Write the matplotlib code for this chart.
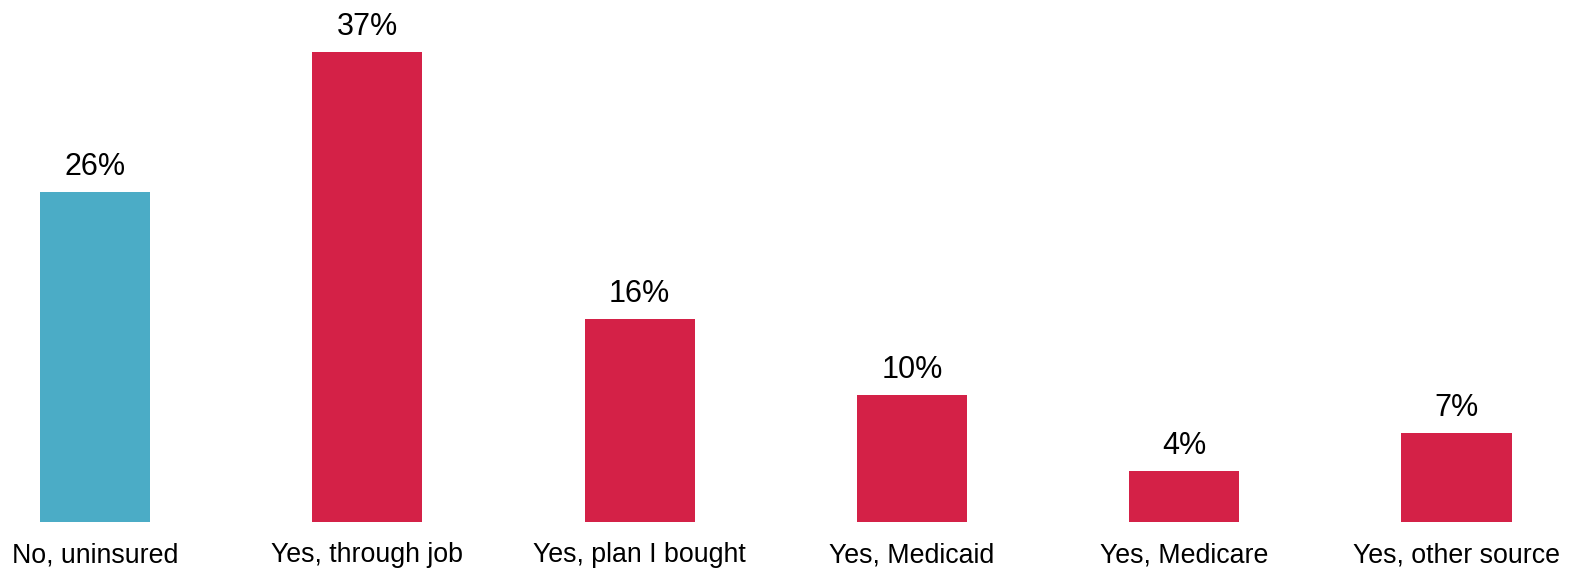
import matplotlib.pyplot as plt

categories = ["No, uninsured", "Yes, through job", "Yes, plan I bought",
              "Yes, Medicaid", "Yes, Medicare", "Yes, other source"]
values = [26, 37, 16, 10, 4, 7]
colors = ["#4BACC6", "#D42147", "#D42147", "#D42147", "#D42147", "#D42147"]

plt.rcParams['font.family'] = ['Liberation Sans', 'DejaVu Sans']

fig = plt.figure(figsize=(15.7, 5.68), dpi=100)
ax = fig.add_axes([0, (568 - 521.5) / 568, 1, (521.5 - 14) / 568])

unit = 272.3
x = list(range(len(categories)))
ax.bar(x, values, width=0.404, color=colors)
for xi, v in zip(x, values):
    ax.annotate(f"{v}%", (xi, v), xytext=(0, 7), textcoords="offset points",
                ha="center", va="bottom", fontsize=22)

ax.set_xlim(-95 / unit, 1570 / unit - 95 / unit)
ax.set_ylim(0, 40)
ax.set_xticks(x)
ax.set_xticklabels(categories, fontsize=19.3)
ax.tick_params(axis="x", length=0, pad=15)
ax.set_yticks([])
for s in ax.spines.values():
    s.set_visible(False)

fig.savefig("out.png", dpi=100)
